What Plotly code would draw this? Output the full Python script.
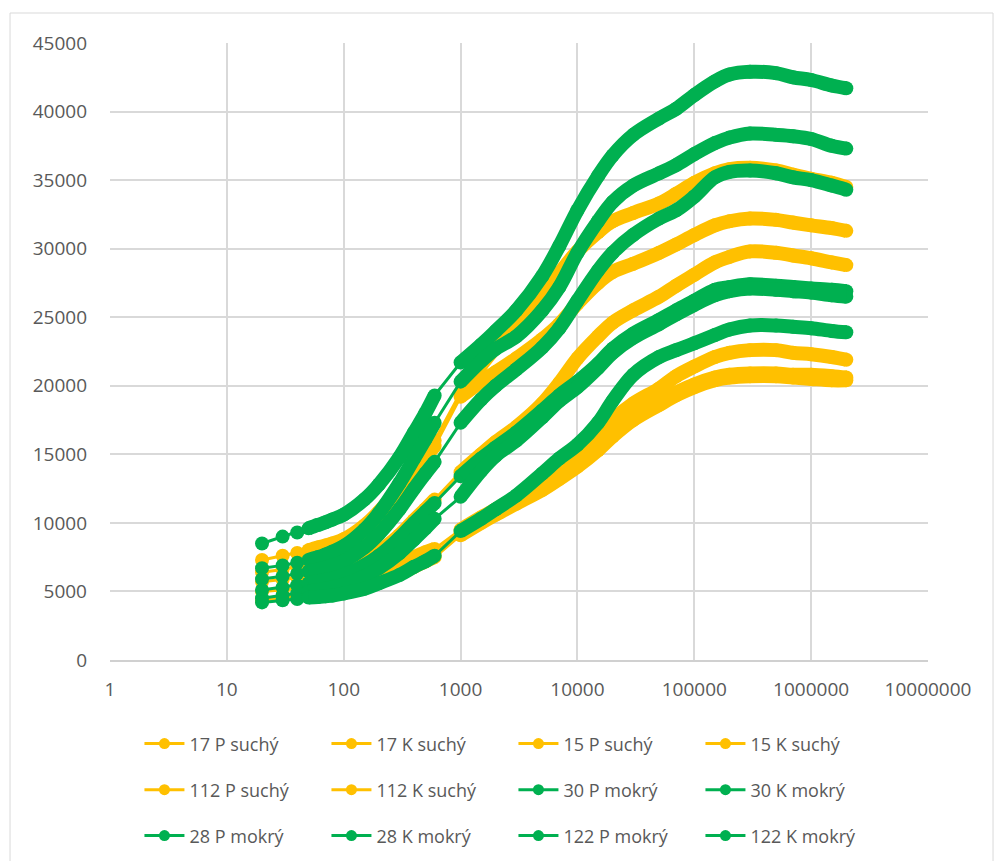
import plotly.graph_objects as go

# frekvence (dve mereni: nizke a vysoke pasmo)
freq_lo = [20, 30, 40, 50, 60, 70, 80, 100, 150, 200, 300, 400, 500, 600]
freq_hi = [1000, 1500, 2000, 3000, 5000, 7000, 10000, 15000, 20000, 30000, 50000,
           70000, 100000, 150000, 200000, 300000, 500000, 700000, 1000000, 1500000, 2000000]

x_tickvals = [1, 10, 100, 1000, 10000, 100000, 1000000, 10000000]
x_ticktext = ["1", "10", "100", "1000", "10000", "100000", "1000000", "10000000"]

# suche vzorky
s17p_lo = [7300, 7600, 7800, 8000, 8200, 8350, 8500, 8800, 9800, 10800, 12600, 14100, 15200, 16000]
s17p_hi = [19500, 21500, 22800, 24200, 26600, 28200, 29800, 31200, 32000, 32600, 33300,
           34000, 34800, 35500, 35800, 35900, 35700, 35400, 35100, 34800, 34500]
s17k_lo = [6400, 6600, 6800, 7000, 7200, 7400, 7550, 7900, 9000, 10100, 12100, 13700, 14800, 15600]
s17k_hi = [19200, 20300, 21000, 22000, 23400, 24500, 26000, 27500, 28300, 28900, 29700,
           30300, 31000, 31700, 32000, 32200, 32100, 31900, 31700, 31500, 31300]
s15p_lo = [5700, 5850, 6000, 6150, 6250, 6350, 6450, 6700, 7300, 7900, 9100, 10200, 11000, 11700]
s15p_hi = [13700, 15000, 15900, 17000, 18700, 20200, 22000, 23600, 24600, 25500, 26500,
           27300, 28100, 29000, 29400, 29800, 29700, 29500, 29300, 29000, 28800]
s15k_lo = [5000, 5100, 5200, 5300, 5400, 5450, 5500, 5650, 6000, 6400, 7000, 7500, 7850, 8100]
s15k_hi = [9500, 10400, 11000, 11900, 13200, 14000, 15000, 16400, 17500, 18700, 19800,
           20700, 21400, 22100, 22400, 22600, 22600, 22400, 22300, 22100, 21900]
s112p_lo = [4400, 4550, 4650, 4750, 4850, 4900, 4950, 5100, 5500, 5900, 6500, 7000, 7400, 7800]
s112p_hi = [9300, 10200, 10800, 11600, 12700, 13500, 14400, 15700, 16700, 17900, 18900,
            19500, 20100, 20600, 20800, 20900, 20900, 20800, 20800, 20700, 20600]
s112k_lo = [4300, 4450, 4550, 4650, 4700, 4750, 4800, 4950, 5300, 5700, 6300, 6800, 7200, 7500]
s112k_hi = [9100, 10000, 10600, 11400, 12400, 13200, 14100, 15300, 16300, 17500, 18600,
            19300, 19900, 20400, 20600, 20700, 20700, 20600, 20500, 20400, 20400]

# mokre vzorky
m30p_lo = [8500, 9000, 9300, 9600, 9850, 10050, 10250, 10600, 11700, 12800, 14800, 16600, 18000, 19300]
m30p_hi = [21700, 23000, 24000, 25500, 28000, 30200, 32800, 35300, 36800, 38300, 39500,
           40200, 41200, 42200, 42700, 42900, 42800, 42500, 42300, 41900, 41700]
m30k_lo = [6700, 6900, 7100, 7300, 7500, 7700, 7900, 8300, 9500, 10700, 12900, 14700, 16100, 17300]
m30k_hi = [20300, 21800, 22700, 23600, 25500, 27200, 29700, 32000, 33400, 34600, 35500,
           36100, 36900, 37700, 38100, 38400, 38300, 38200, 38000, 37500, 37300]
m28p_lo = [5900, 6100, 6300, 6450, 6600, 6750, 6900, 7200, 8200, 9200, 11000, 12500, 13600, 14450]
m28p_hi = [17300, 19000, 20000, 21200, 22800, 24200, 26200, 28400, 29700, 31000, 32200,
           32800, 33800, 35200, 35600, 35700, 35500, 35200, 35000, 34600, 34300]
m28k_lo = [5100, 5300, 5450, 5600, 5750, 5850, 5950, 6200, 6900, 7600, 8900, 10000, 10800, 11450]
m28k_hi = [13400, 14700, 15500, 16600, 18200, 19300, 20300, 21600, 22700, 23800, 24800,
           25500, 26200, 27000, 27200, 27400, 27300, 27200, 27100, 27000, 26900]
m122p_lo = [4500, 4700, 4850, 5000, 5100, 5200, 5300, 5500, 6100, 6700, 7800, 8800, 9600, 10300]
m122p_hi = [11900, 13800, 14900, 16000, 17700, 18900, 19900, 21300, 22400, 23500, 24500,
            25200, 25900, 26600, 26900, 27100, 27000, 26900, 26800, 26600, 26500]
m122k_lo = [4200, 4350, 4450, 4550, 4600, 4650, 4700, 4850, 5200, 5600, 6200, 6800, 7200, 7600]
m122k_hi = [9400, 10300, 11000, 12000, 13600, 14700, 15700, 17300, 18900, 20800, 22100,
            22600, 23100, 23700, 24100, 24400, 24400, 24300, 24200, 24000, 23900]

YELLOW = "#FFC000"
GREEN = "#00B050"

series = [
    ("17 P suchý", YELLOW, s17p_lo, s17p_hi),
    ("17 K suchý", YELLOW, s17k_lo, s17k_hi),
    ("15 P suchý", YELLOW, s15p_lo, s15p_hi),
    ("15 K suchý", YELLOW, s15k_lo, s15k_hi),
    ("112 P suchý", YELLOW, s112p_lo, s112p_hi),
    ("112 K suchý", YELLOW, s112k_lo, s112k_hi),
    ("30 P mokrý", GREEN, m30p_lo, m30p_hi),
    ("30 K mokrý", GREEN, m30k_lo, m30k_hi),
    ("28 P mokrý", GREEN, m28p_lo, m28p_hi),
    ("28 K mokrý", GREEN, m28k_lo, m28k_hi),
    ("122 P mokrý", GREEN, m122p_lo, m122p_hi),
    ("122 K mokrý", GREEN, m122k_lo, m122k_hi),
]

LEGENDS = ["legend", "legend2", "legend3"]

fig = go.Figure()

for i, (name, color, lo, hi) in enumerate(series):
    # tenka cara + body (pres mezeru 600 -> 1000)
    fig.add_trace(go.Scatter(
        x=freq_lo + freq_hi, y=lo + hi,
        mode="lines+markers",
        line=dict(color=color, width=3),
        marker=dict(color=color, size=14),
        showlegend=False, hoverinfo="skip",
    ))
    # husta mereni -> tlusty pas
    fig.add_trace(go.Scatter(
        x=freq_lo[3:] + [None] + freq_hi, y=lo[3:] + [None] + hi,
        mode="lines",
        line=dict(color=color, width=14, shape="spline"),
        connectgaps=False,
        showlegend=False, name=name,
    ))
    # polozka legendy
    fig.add_trace(go.Scatter(
        x=[None], y=[None],
        mode="lines+markers",
        line=dict(color=color, width=3),
        marker=dict(color=color, size=11),
        name=name, legend=LEGENDS[i // 4],
    ))

legend_common = dict(
    orientation="h", xanchor="left", yanchor="middle", x=0.036,
    font=dict(size=18, color="#595959"),
    itemwidth=40, entrywidth=132, bgcolor="rgba(0,0,0,0)",
)

fig.add_shape(type="rect", xref="paper", yref="paper",
              x0=-0.1222, x1=1.0795, y0=-0.36, y1=1.0486,
              line=dict(color="#d9d9d9", width=1), layer="below")

fig.update_layout(
    width=995, height=861,
    margin=dict(l=110, r=67, t=43, b=201, autoexpand=False),
    paper_bgcolor="white", plot_bgcolor="white",
    font=dict(family="Open Sans", color="#595959"),
    xaxis=dict(
        type="log", range=[0, 7],
        tickvals=x_tickvals, ticktext=x_ticktext,
        showgrid=True, gridcolor="#d9d9d9", gridwidth=1.5,
        showline=True, linecolor="#d0d0d0", linewidth=1.5,
        zeroline=False, ticks="", ticklabelstandoff=11,
        tickfont=dict(size=19, color="#595959"),
    ),
    yaxis=dict(
        range=[0, 45000], dtick=5000, tickformat="d",
        showgrid=True, gridcolor="#d9d9d9", gridwidth=1.5,
        zeroline=False, ticks="", ticklabelstandoff=22,
        tickfont=dict(size=19, color="#595959"),
    ),
    legend=dict(y=-0.136, **legend_common),
    legend2=dict(y=-0.2107, **legend_common),
    legend3=dict(y=-0.285, **legend_common),
)

fig.write_html("out.html", config={"displayModeBar": False},
               post_script="document.body.style.margin='0';")
